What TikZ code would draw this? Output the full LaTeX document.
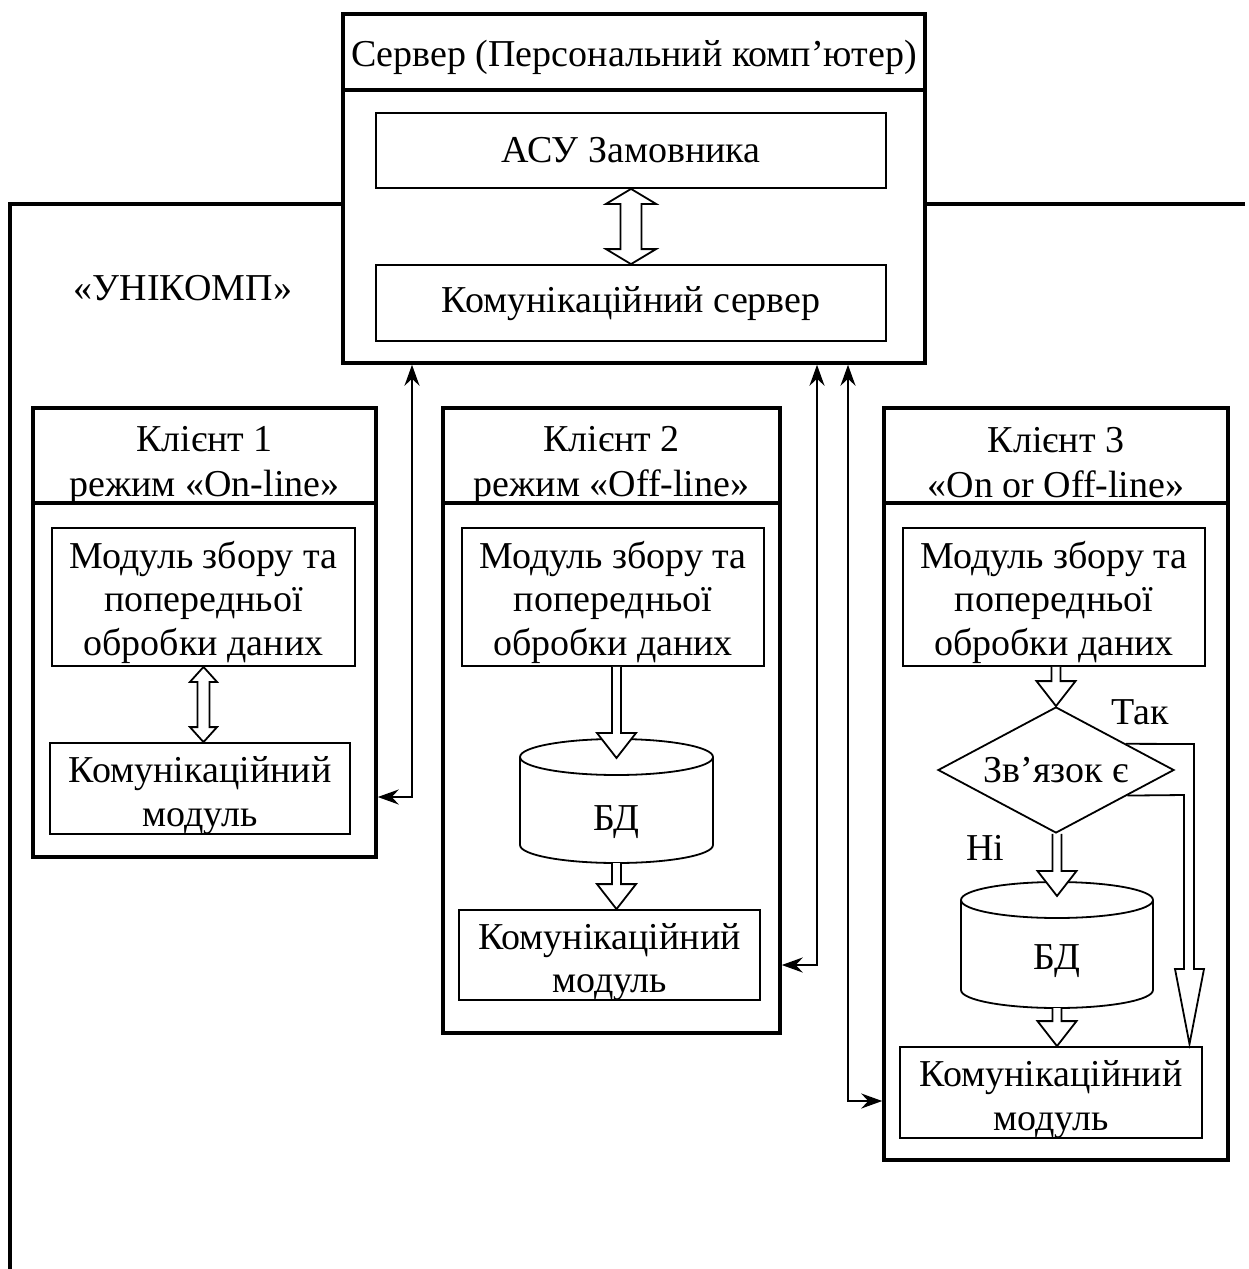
\documentclass[tikz,border=0pt]{standalone}
\usepackage{fontspec}
\setmainfont{Liberation Serif}
\usetikzlibrary{shapes.geometric,arrows.meta,calc}
\newcommand\dfont{\fontsize{38}{43.5}\selectfont}
\newcommand\tfont{\fontsize{38}{45}\selectfont}
% hollow down arrow: from #1 to #2, x taken from #3
\newcommand\hdown[3]{\draw[harrow] let \p1=(#1), \p2=(#2), \p3=(#3) in (\x3-4.5pt,\y1) -- (\x3-4.5pt,\y2+25pt) -- (\x3-19.5pt,\y2+25pt) -- (\x3,\y2) -- (\x3+19.5pt,\y2+25pt) -- (\x3+4.5pt,\y2+25pt) -- (\x3+4.5pt,\y1);}
% hollow double arrow
\newcommand\hboth[5]{\draw[harrow] let \p1=(#1), \p2=(#2) in (\x1,\y1) -- (\x1+#4,\y1-#5) -- (\x1+#3,\y1-#5) -- (\x1+#3,\y2+#5) -- (\x1+#4,\y2+#5) -- (\x1,\y2) -- (\x1-#4,\y2+#5) -- (\x1-#3,\y2+#5) -- (\x1-#3,\y1-#5) -- (\x1-#4,\y1-#5) -- cycle;}
\tikzset{
 heavy/.style={draw, line width=3.5pt, inner sep=0pt},
 lite/.style={draw, line width=1.8pt, inner sep=0pt},
 txt/.style={inner sep=0pt, align=center, font=\dfont},
 ttl/.style={inner sep=0pt, align=center, font=\tfont},
 harrow/.style={draw, fill=white, line width=1.8pt, line join=miter},
 conn/.style={line width=2.4pt, {Stealth[length=21pt,width=15pt,inset=7pt]}-{Stealth[length=21pt,width=15pt,inset=7pt]}},
 cyl/.style={line width=1.8pt},
 hline/.style={line width=3.5pt},
 modtxt/.style={txt, yshift=-5pt},
 comtxt/.style={txt, yshift=-7pt},
}
\begin{document}
\begin{tikzpicture}[x=1pt,y=-1pt]
\fill[white] (0,0) rectangle (1248,1269);
\useasboundingbox (0,0) rectangle (1248,1269);

% server
\node[heavy, minimum width=582, minimum height=349] (srv) at (634,188.5) {};
\node[txt] (srvt) at (634,57) {Сервер (Персональний комп’ютер)};
\coordinate (srvd) at (634,90);
\draw[hline] (srv.west |- srvd) -- (srv.east |- srvd);
\node[lite, minimum width=510, minimum height=75] (asu) at (631,150.5) {};
\node[txt] (asut) at (asu) {АСУ Замовника};
\node[lite, minimum width=510, minimum height=76] (ks) at (631,303) {};
\node[txt, yshift=-1pt] (kst) at (ks) {Комунікаційний сервер};
\hboth{asu.south}{ks.north}{10.5pt}{25pt}{15pt}

% enclosing line
\coordinate (ul) at (10,204);
\coordinate (ur) at (1245,204);
\coordinate (ll) at (10,1269);
\draw[hline] (srv.west |- ul) -- (ul) -- (ll);
\draw[hline] (srv.east |- ur) -- (ur);
\node[txt] (uni) at (183,288) {«УНІКОМП»};

% client 1
\node[heavy, minimum width=343, minimum height=449] (c1) at (204.5,632.5) {};
\node[ttl] (c1t) at (204.5,465) {Клієнт 1\\режим «On-line»};
\coordinate (c1d) at (204.5,503);
\draw[hline] (c1.west |- c1d) -- (c1.east |- c1d);
\node[lite, minimum width=303, minimum height=138] (m1) at (203.5,597) {};
\node[modtxt] (m1t) at (m1) {Модуль збору та\\попередньої\\обробки даних};
\node[lite, minimum width=300, minimum height=91] (k1) at (200,788.5) {};
\node[comtxt] (k1t) at (k1) {Комунікаційний\\модуль};
\hboth{m1.south}{k1.north}{6pt}{13.5pt}{15pt}

% client 2
\node[heavy, minimum width=337, minimum height=625] (c2) at (611.5,720.5) {};
\node[ttl] (c2t) at (611.5,465) {Клієнт 2\\режим «Off-line»};
\coordinate (c2d) at (611.5,503);
\draw[hline] (c2.west |- c2d) -- (c2.east |- c2d);
\node[lite, minimum width=302, minimum height=138] (m2) at (613,597) {};
\node[modtxt] (m2t) at (m2) {Модуль збору та\\попередньої\\обробки даних};
\draw[cyl] (520,757) -- (520,845) arc[start angle=180,end angle=360,x radius=96.5pt,y radius=18pt] -- (713,757);
\draw[cyl] (616.5,757) ellipse [x radius=96.5pt, y radius=18pt];
\coordinate (db2t) at (616.5,758);
\coordinate (db2b) at (616.5,863);
\node[txt] (db2) at (616.5,822) {БД};
\node[lite, minimum width=301, minimum height=90] (k2) at (609.5,955) {};
\node[comtxt] (k2t) at (k2) {Комунікаційний\\модуль};
\hdown{m2.south}{db2t}{db2t}
\hdown{db2b}{k2.north}{db2b}

% client 3
\node[heavy, minimum width=344, minimum height=752] (c3) at (1056,784) {};
\node[ttl] (c3t) at (1056,463) {Клієнт 3\\«On or Off-line»};
\coordinate (c3d) at (1056,503);
\draw[hline] (c3.west |- c3d) -- (c3.east |- c3d);
\node[lite, minimum width=302, minimum height=138] (m3) at (1054,597) {};
\node[modtxt] (m3t) at (m3) {Модуль збору та\\попередньої\\обробки даних};
\node[draw, diamond, line width=1.8pt, minimum width=236, minimum height=126, inner sep=0pt, aspect=1.87, font=\dfont] (d3) at (1056,770) {Зв’язок є};
\draw[cyl] (961,900) -- (961,990) arc[start angle=180,end angle=360,x radius=96pt,y radius=18pt] -- (1153,900);
\draw[cyl] (1057,900) ellipse [x radius=96pt, y radius=18pt];
\coordinate (db3t) at (1057,896);
\coordinate (db3b) at (1057,1008);
\node[txt] (db3) at (1057,961) {БД};
\node[lite, minimum width=302, minimum height=91] (k3) at (1051,1092.5) {};
\node[comtxt] (k3t) at (k3) {Комунікаційний\\модуль};
\hdown{m3.south}{d3.north}{d3.north}
\hdown{d3.south}{db3t}{db3t}
\hdown{db3b}{k3.north}{db3b}
\coordinate (tu) at (1194,744);
\coordinate (tl) at (1184,795);
\coordinate (tt) at (1189.5,1044);
\draw[line width=1.8pt, line join=miter] ($(d3.east)!0.41!(d3.north)$) -- (tu) -- (1194,969) -- (1204,969) -- (tt) -- (1175,969) -- (1184,969) -- (tl) -- ($(d3.east)!0.4!(d3.south)$);
\node[txt] (yes) at (1140,712) {Так};
\node[txt] (no) at (985,848) {Ні};

% connectors
\coordinate (j1) at (412,797);
\draw[conn] (c1.east |- j1) -- (j1) -- (j1 |- srv.south);
\coordinate (j2) at (817,965);
\draw[conn] (c2.east |- j2) -- (j2) -- (j2 |- srv.south);
\coordinate (j3) at (848,1101);
\draw[conn] (c3.west |- j3) -- (j3) -- (j3 |- srv.south);
\end{tikzpicture}
\end{document}
